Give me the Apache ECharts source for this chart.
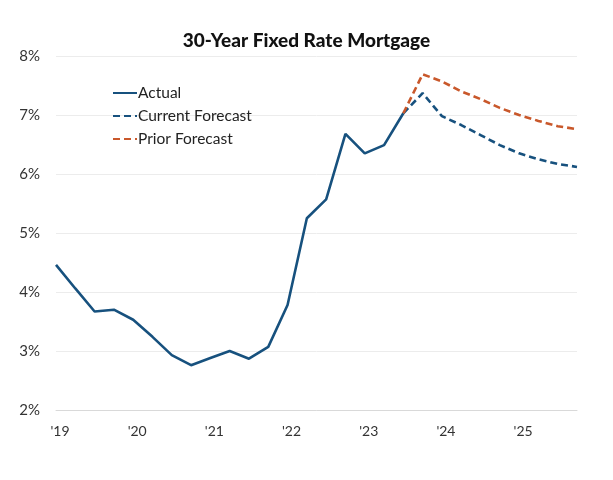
<!DOCTYPE html>
<html>
<head>
<meta charset="utf-8">
<script src="https://cdn.jsdelivr.net/npm/echarts@6/dist/echarts.min.js"></script>
<style>html,body{margin:0;padding:0;background:#fff}#c{width:613px;height:480px}</style>
</head>
<body>
<div id="c"></div>
<script>
var quarters = ["2019Q1","2019Q2","2019Q3","2019Q4","2020Q1","2020Q2","2020Q3","2020Q4",
  "2021Q1","2021Q2","2021Q3","2021Q4","2022Q1","2022Q2","2022Q3","2022Q4",
  "2023Q1","2023Q2","2023Q3","2023Q4","2024Q1","2024Q2","2024Q3","2024Q4",
  "2025Q1","2025Q2","2025Q3","2025Q4"];
var actual = [4.46,4.06,3.67,3.70,3.53,3.24,2.93,2.76,2.88,3.00,2.87,3.07,3.78,5.25,5.57,6.68,6.35,6.49,7.03,
  null,null,null,null,null,null,null,null,null];
var currentForecast = [null,null,null,null,null,null,null,null,null,null,null,null,null,null,null,null,null,null,
  7.03,7.37,6.98,6.83,6.66,6.49,6.35,6.25,6.17,6.12];
var priorForecast = [null,null,null,null,null,null,null,null,null,null,null,null,null,null,null,null,null,null,
  7.03,7.69,7.57,7.40,7.27,7.12,7.00,6.90,6.81,6.76];
var yTicks = [2,3,4,5,6,7,8];

var blue = '#17517e', orange = '#c9582b';
var font = 'Lato, "Noto Sans", sans-serif';
var chart = echarts.init(document.getElementById('c'), null, {renderer:'canvas'});
chart.setOption({
  animation:false,
  textStyle:{fontFamily:font},
  title:{text:'30-Year Fixed Rate Mortgage',left:'center',top:26,
    textStyle:{fontFamily:font,fontSize:19,fontWeight:900,color:'#111'}},
  legend:{orient:'vertical',left:107,top:80,itemWidth:24,itemHeight:14,itemGap:7,
    itemStyle:{opacity:0},
    textStyle:{fontFamily:font,fontSize:15.5,color:'#222',padding:[0,0,0,-4]},
    data:['Actual','Current Forecast','Prior Forecast']},
  grid:{left:56,right:36,top:56,bottom:70,containLabel:false},
  xAxis:{type:'category',data:quarters,boundaryGap:false,
    axisLine:{show:true,lineStyle:{color:'#d9d9d9',width:1}},
    axisTick:{show:false},
    axisLabel:{interval:3,margin:14,fontSize:14,color:'#333',padding:[0,0,0,8],
      formatter:function(v){return "'"+v.slice(2,4);}},
    splitLine:{show:false}},
  yAxis:{type:'value',min:yTicks[0],max:yTicks[yTicks.length-1],interval:1,
    axisLine:{show:false},axisTick:{show:false},
    axisLabel:{margin:16,fontSize:15,color:'#333',formatter:'{value}%'},
    splitLine:{lineStyle:{color:'#ececec',width:1}}},
  series:[
    {name:'Actual',type:'line',data:actual,showSymbol:false,symbol:'none',
      lineStyle:{color:blue,width:2.6},itemStyle:{color:blue}},
    {name:'Current Forecast',type:'line',data:currentForecast,showSymbol:false,symbol:'none',
      lineStyle:{color:blue,width:2.6,type:[7,4]},itemStyle:{color:blue}},
    {name:'Prior Forecast',type:'line',data:priorForecast,showSymbol:false,symbol:'none',
      lineStyle:{color:orange,width:2.6,type:[7,4]},itemStyle:{color:orange}}
  ]
});
</script>
</body>
</html>
